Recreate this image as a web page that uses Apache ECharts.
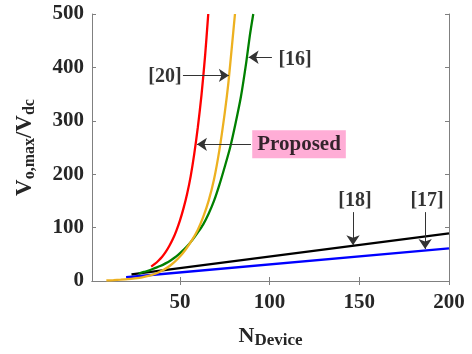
<!DOCTYPE html>
<html>
<head>
<meta charset="utf-8">
<script src="https://cdn.jsdelivr.net/npm/echarts@6/dist/echarts.min.js"></script>
<style>
html, body { margin: 0; padding: 0; background: #fff; }
#chart { width: 472px; height: 354px; }
</style>
</head>
<body>
<div id="chart"></div>
<script>
// Number of devices vs. normalised peak output voltage for each topology
const xTickValues = [50, 100, 150, 200];
const yTickStep = 100;

const ref17 = [[20, 7], [200, 61]];
const ref18 = [[23, 12.5], [200, 89]];
const ref16 = [[27, 14], [30, 17], [33, 20], [36, 24], [39, 28], [42, 33], [45, 39], [48, 46], [51, 55],
               [54, 65], [57, 77], [60, 91], [63, 106], [66, 126], [69, 150], [72, 180], [75, 214],
               [78, 250], [81, 295], [84, 345], [87, 410], [89, 460], [90.9, 500]];
const ref20 = [[9, 1], [13, 1.6], [17, 2.4], [21, 3.4], [25, 5], [29, 7], [33, 10], [37, 14.5], [41, 21],
               [45, 30], [49, 42], [53, 58], [57, 78], [60, 96], [63, 120], [66, 150], [69, 190],
               [72, 245], [75, 315], [77, 370], [79, 440], [80.7, 500]];
const proposed = [[34, 27], [36, 32], [38, 38], [40, 45], [42, 54], [44, 65], [46, 78], [48, 94],
                  [50, 113], [52, 136], [54, 163], [56, 196], [58, 238], [60, 288], [62, 347],
                  [64, 420], [65.8, 500]];

// Reference tags and the arrows that point from them to their curves
const tagLabels = [[41.7, 383, '[20]'], [114.2, 415, '[16]'], [147.6, 151, '[18]'], [187.8, 151, '[17]']];
const proposedTag = [[116.4, 256, 'Proposed']];
const tagArrows = [
  [[51.7, 385], [77.3, 385]],
  [[101.3, 419], [88.3, 419]],
  [[89.6, 256], [59.5, 256]],
  [[146.5, 129], [146.5, 67]],
  [[186.7, 129], [186.7, 60]]
];

const FONT = 'Liberation Serif';
const AXIS_GRAY = '#808080';
const TEXT = '#262626';

function curve(name, data, color) {
  return {
    name, type: 'line', data, smooth: 0.25,
    showSymbol: false, symbol: 'none',
    lineStyle: { color, width: 2.3 },
    xAxisIndex: 0, yAxisIndex: 0, animation: false, z: 3
  };
}

const chart = echarts.init(document.getElementById('chart'), null, { renderer: 'canvas' });

const baseX = {
  type: 'value', min: 1, max: 200,
  splitLine: { show: false },
  axisLine: { show: true, lineStyle: { color: AXIS_GRAY, width: 1 } },
  axisTick: { show: true, inside: true, length: 4, customValues: xTickValues, lineStyle: { color: AXIS_GRAY } }
};
const baseY = {
  type: 'value', min: 0, max: 500, interval: yTickStep,
  splitLine: { show: false },
  axisLine: { show: true, lineStyle: { color: AXIS_GRAY, width: 1 } },
  axisTick: { show: true, inside: true, length: 4, lineStyle: { color: AXIS_GRAY } }
};

chart.setOption({
  backgroundColor: '#ffffff',
  animation: false,
  grid: { left: 92, right: 23, top: 14, bottom: 73 },
  xAxis: [
    Object.assign({}, baseX, {
      position: 'bottom',
      axisLabel: { show: true, customValues: xTickValues, margin: 11, color: TEXT,
                   fontFamily: FONT, fontWeight: 'bold', fontSize: 21 },
      name: '{m|N}{s|Device}',
      nameLocation: 'middle', nameGap: 44,
      nameTextStyle: {
        rich: {
          m: { fontFamily: FONT, fontWeight: 'bold', fontSize: 22, color: TEXT, lineHeight: 24, verticalAlign: 'top' },
          s: { fontFamily: FONT, fontWeight: 'bold', fontSize: 17, color: TEXT, lineHeight: 18, padding: [12, 0, 0, 0], verticalAlign: 'bottom' }
        }
      }
    }),
    Object.assign({}, baseX, { position: 'top', axisLabel: { show: false } })
  ],
  yAxis: [
    Object.assign({}, baseY, {
      position: 'left',
      axisLabel: { show: true, margin: 8, color: TEXT, fontFamily: FONT, fontWeight: 'bold', fontSize: 21 },
      name: '{m|V}{s|o,max}{m|/V}{s|dc}',
      nameLocation: 'middle', nameGap: 54, nameRotate: 90,
      nameTextStyle: {
        rich: {
          m: { fontFamily: FONT, fontWeight: 'bold', fontSize: 23, color: TEXT, lineHeight: 24, verticalAlign: 'top' },
          s: { fontFamily: FONT, fontWeight: 'bold', fontSize: 16, color: TEXT, lineHeight: 17, padding: [12, 0, 0, 0], verticalAlign: 'bottom' }
        }
      }
    }),
    Object.assign({}, baseY, { position: 'right', axisLabel: { show: false } })
  ],
  series: [
    curve('[17]', ref17, '#0000ff'),
    curve('[18]', ref18, '#000000'),
    curve('Proposed', proposed, '#ff0000'),
    curve('[16]', ref16, '#008000'),
    curve('[20]', ref20, '#edb120'),
    {
      name: 'tags', type: 'scatter', data: tagLabels, symbolSize: 0, silent: true, z: 5,
      label: {
        show: true, position: 'inside', formatter: p => p.data[2],
        fontFamily: FONT, fontWeight: 'bold', fontSize: 20, color: '#000'
      },
      markLine: {
        silent: true, animation: false,
        symbol: ['none', 'arrow'], symbolSize: 10,
        itemStyle: { color: '#111111' },
        lineStyle: { color: '#333333', width: 1, type: 'solid' },
        label: { show: false },
        data: tagArrows.map(a => [{ coord: a[0] }, { coord: a[1] }])
      }
    },
    {
      name: 'proposedTag', type: 'scatter', data: proposedTag, symbolSize: 0, silent: true, z: 5,
      label: {
        show: true, position: 'inside', formatter: p => p.data[2],
        fontFamily: FONT, fontWeight: 'bold', fontSize: 21, color: '#000',
        backgroundColor: '#ff99cc', padding: [4, 5, 3, 5]
      }
    }
  ]
});
</script>
</body>
</html>
